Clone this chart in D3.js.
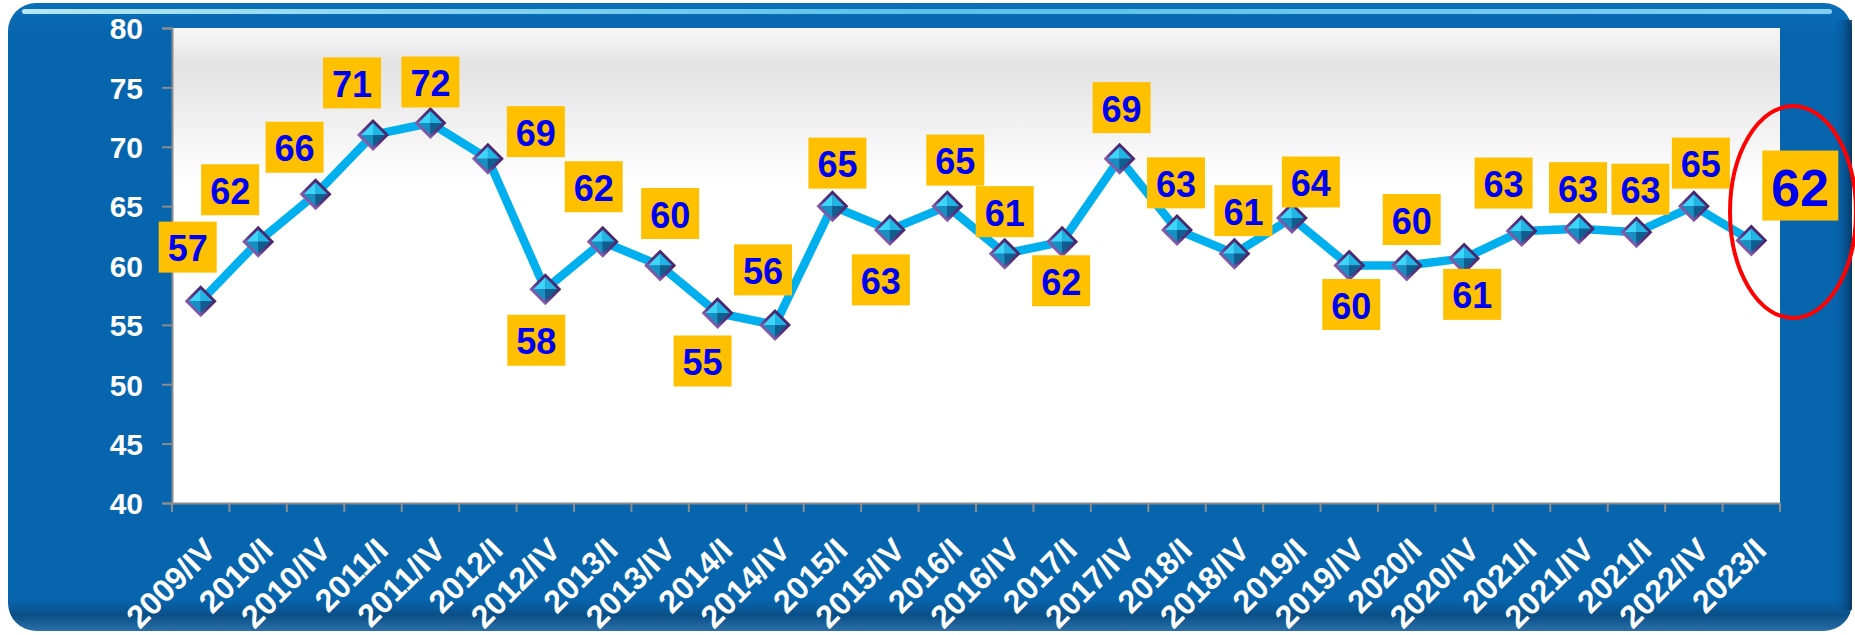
<!DOCTYPE html>
<html>
<head>
<meta charset="utf-8">
<script src="https://cdn.jsdelivr.net/npm/d3@7"></script>
<style>
  html, body { margin: 0; padding: 0; background: #ffffff; }
  svg { display: block; }
</style>
</head>
<body>
<svg id="chart" width="1855" height="635"></svg>
<script>
// ---------------- data ----------------
const categories = ["2009/IV","2010/I","2010/IV","2011/I","2011/IV","2012/I","2012/IV","2013/I","2013/IV","2014/I","2014/IV","2015/I","2015/IV","2016/I","2016/IV","2017/I","2017/IV","2018/I","2018/IV","2019/I","2019/IV","2020/I","2020/IV","2021/I","2021/IV","2021/I","2022/IV","2023/I"];
const values = [57,62,66,71,72,69,58,62,60,56,55,65,63,65,61,62,69,63,61,64,60,60,60.6,62.9,63.1,62.8,65,62.1];
const labelTexts = ["57","62","66","71","72","69","58","62","60","55","56","65","63","65","61","62","69","63","61","64","60","60","61","63","63","63","65","62"];
const yTicks = [40,45,50,55,60,65,70,75,80];

// ---------------- layout (label offsets from marker, px) ----------------
const labelDx = [-13,-28,-21,-21,0,48,-9,-9,10,-15,-12,5,-9,8,0,-1,2,-1,9,19,2,5,8,-18,-1,4,7,49];
const labelDy = [-54,-52,-47,-52,-41,-27,51,-55,-52,48,-55,-43,50,-46,-42,39,-51,-47,-43,-36,39,-46,36,-48,-41,-43,-43,-55];

const svg = d3.select("#chart");
const plot = {left: 172, right: 1780, top: 28, bottom: 503};

const defs = svg.append("defs");

// frame gradients
const fg = defs.append("linearGradient").attr("id","frameV").attr("x1",0).attr("y1",0).attr("x2",0).attr("y2",1);
fg.append("stop").attr("offset","0").attr("stop-color","#0a6fb8");
fg.append("stop").attr("offset","0.05").attr("stop-color","#0765ae");
fg.append("stop").attr("offset","0.95").attr("stop-color","#0765ae");
fg.append("stop").attr("offset","0.975").attr("stop-color","#0a4f86");
fg.append("stop").attr("offset","1").attr("stop-color","#2a6fa8");

const hl = defs.append("linearGradient").attr("id","hilite").attr("x1",0).attr("y1",0).attr("x2",1).attr("y2",0);
hl.append("stop").attr("offset","0").attr("stop-color","#c8f4ff").attr("stop-opacity",0.9);
hl.append("stop").attr("offset","0.5").attr("stop-color","#6fd6f5").attr("stop-opacity",0.8);
hl.append("stop").attr("offset","1").attr("stop-color","#9fe8ff").attr("stop-opacity",0.8);

const rs = defs.append("linearGradient").attr("id","rightShade").attr("x1",0).attr("y1",0).attr("x2",1).attr("y2",0);
rs.append("stop").attr("offset","0").attr("stop-color","#0765ae").attr("stop-opacity",0);
rs.append("stop").attr("offset","1").attr("stop-color","#06345e").attr("stop-opacity",0.9);

const pg = defs.append("linearGradient").attr("id","plotBg").attr("x1",0).attr("y1",0).attr("x2",0).attr("y2",1);
pg.append("stop").attr("offset","0").attr("stop-color","#f7f7f7");
pg.append("stop").attr("offset","0.08").attr("stop-color","#e3e3e3");
pg.append("stop").attr("offset","0.33").attr("stop-color","#ffffff");
pg.append("stop").attr("offset","1").attr("stop-color","#ffffff");

const mb = defs.append("linearGradient").attr("id","markBorder").attr("x1",1).attr("y1",0).attr("x2",0).attr("y2",1);
mb.append("stop").attr("offset","0").attr("stop-color","#3a1a58");
mb.append("stop").attr("offset","0.55").attr("stop-color","#5a3282");
mb.append("stop").attr("offset","1").attr("stop-color","#c69ae6");

// ---------------- frame ----------------
svg.append("rect").attr("x",8).attr("y",3).attr("width",1844).attr("height",628)
  .attr("rx",28).attr("ry",28).attr("fill","url(#frameV)");
svg.append("rect").attr("x",1832).attr("y",20).attr("width",20).attr("height",590)
  .attr("fill","url(#rightShade)");
svg.append("rect").attr("x",22).attr("y",9).attr("width",1810).attr("height",5)
  .attr("rx",2.5).attr("fill","url(#hilite)");

// ---------------- plot area ----------------
svg.append("rect").attr("x",plot.left).attr("y",plot.top)
  .attr("width",plot.right-plot.left).attr("height",plot.bottom-plot.top)
  .attr("fill","url(#plotBg)");

const x = d3.scaleBand().domain(d3.range(categories.length)).range([plot.left, plot.right]).paddingInner(0).paddingOuter(0);
const y = d3.scaleLinear().domain([40,80]).range([plot.bottom, plot.top]);
const cx = i => x(i) + x.bandwidth()/2;

// y axis
const yAxis = svg.append("g").attr("transform",`translate(${plot.left},0)`)
  .call(d3.axisLeft(y).tickValues(yTicks).tickSize(10).tickPadding(19));
yAxis.select(".domain").attr("stroke","#8c8c8c").attr("stroke-width",2);
yAxis.selectAll(".tick line").attr("stroke","#8c8c8c").attr("stroke-width",2);
yAxis.selectAll(".tick text").attr("fill","#ffffff").attr("font-family","'Liberation Sans', Arial, sans-serif")
  .attr("font-weight","bold").attr("font-size",30).attr("dy","0.36em");

// x axis
const xAxis = svg.append("g").attr("transform",`translate(0,${plot.bottom})`)
  .call(d3.axisBottom(x).tickSize(0).tickFormat(i => categories[i]));
xAxis.select(".domain").attr("stroke","#8c8c8c").attr("stroke-width",2);
xAxis.selectAll(".tick text")
  .attr("fill","#ffffff").attr("font-family","'Liberation Sans', Arial, sans-serif")
  .attr("font-weight","bold").attr("font-size",32)
  .attr("y",0).attr("dy",0).attr("text-anchor","end")
  .attr("transform","translate(17,49) rotate(-45)");
// tick marks at band edges
const edges = d3.range(categories.length + 1).map(i => i < categories.length ? x(i) : x(i-1) + x.step());
xAxis.selectAll("line.edge").data(edges).join("line").attr("class","edge")
  .attr("x1", d => d).attr("x2", d => d).attr("y1", 0).attr("y2", 9)
  .attr("stroke","#8c8c8c").attr("stroke-width",2);

// ---------------- line ----------------
const line = d3.line().x((d,i) => cx(i)).y(d => y(d));
svg.append("path").datum(values).attr("d", line)
  .attr("fill","none").attr("stroke","#00b0ee").attr("stroke-width",8.5).attr("stroke-linejoin","round");

// ---------------- markers ----------------
const R = 16, r = 12;
const marks = svg.append("g").selectAll("g").data(values).join("g")
  .attr("transform",(d,i) => `translate(${cx(i)},${y(d)})`);
marks.append("path").attr("d",`M0,${-R}L${R},0L0,${R}L${-R},0Z`).attr("fill","url(#markBorder)");
const facets = [
  {p:[[0,-r],[r,0],[0,0]], c:"#1fb6e6"},
  {p:[[0,-r],[-r,0],[0,0]], c:"#3cd6f8"},
  {p:[[-r,0],[0,r],[0,0]], c:"#1690c2"},
  {p:[[r,0],[0,r],[0,0]], c:"#0f5e8e"}
];
facets.forEach(f => {
  marks.append("path").attr("d", "M" + f.p.map(q => q.join(",")).join("L") + "Z").attr("fill", f.c);
});

// ---------------- data labels ----------------
const last = values.length - 1;
const lab = svg.append("g").selectAll("g").data(values).join("g")
  .attr("transform",(d,i) => `translate(${cx(i)+labelDx[i]},${y(d)+labelDy[i]})`);
lab.append("rect")
  .attr("x",(d,i) => i === last ? -38 : -29).attr("y",(d,i) => i === last ? -35 : -25.5)
  .attr("width",(d,i) => i === last ? 76 : 58).attr("height",(d,i) => i === last ? 70 : 51)
  .attr("fill","#ffc000");
lab.append("text").text((d,i) => labelTexts[i])
  .attr("text-anchor","middle")
  .attr("y",(d,i) => i === last ? 20 : 14)
  .attr("font-family","'Liberation Sans', Arial, sans-serif").attr("font-weight","bold")
  .attr("font-size",(d,i) => i === last ? 52 : 36).attr("fill","#0000f0");

// ---------------- highlight ellipse ----------------
svg.append("ellipse").attr("cx",1793).attr("cy",212).attr("rx",63).attr("ry",106)
  .attr("fill","none").attr("stroke","#ff0000").attr("stroke-width",4);
</script>
</body>
</html>
